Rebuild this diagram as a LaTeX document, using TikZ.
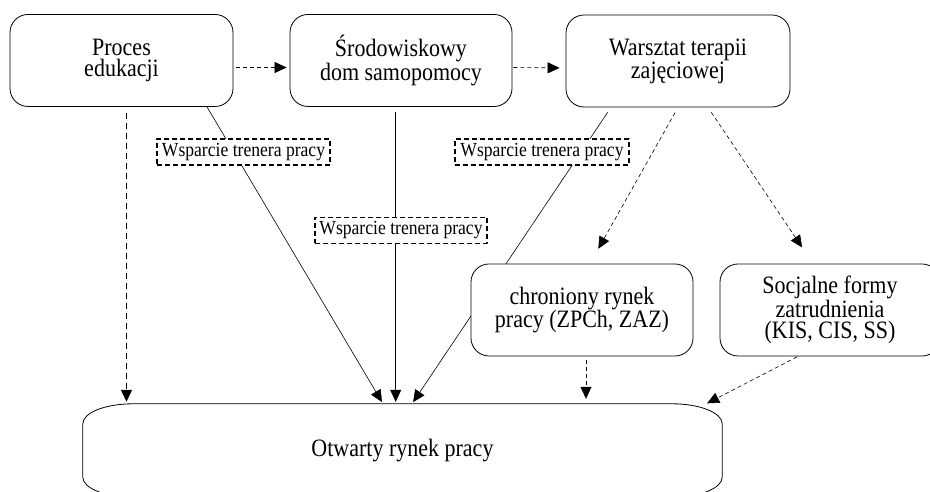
\documentclass[tikz,border=0pt]{standalone}
\usepackage{fontspec}
\setmainfont[FakeStretch=0.88]{Liberation Serif}
\usetikzlibrary{arrows.meta}
\tikzset{boxnode/.style={rectangle, rounded corners=18pt, draw=black, fill=white, line width=0.8pt, align=center, inner sep=0pt, minimum height=92pt, font=\fontsize{25}{21}\selectfont},supportnode/.style={rectangle, draw=black, fill=white, line width=1.1pt, dash pattern=on 5pt off 3pt, inner sep=0pt, minimum height=26pt, font=\fontsize{20}{20}\selectfont}}

\begin{document}
\begin{tikzpicture}[
        line join=bevel,
        >={Triangle[length=12pt, width=11pt]},
        dashedarrow/.style={->, line width=0.6pt, dash pattern=on 4pt off 3pt},
        boldarrow/.style={->, line width=1.3pt, dash pattern=on 6pt off 4pt},
        solidarrow/.style={->, line width=0.6pt}
    ]
        \useasboundingbox (0pt, 0pt) rectangle (930pt, 492pt);
        \clip (0pt, 0pt) rectangle (930pt, 492pt);
        % Top row
        \node[boxnode, minimum width=223pt] (edu) at (121.5pt, 431.5pt) {Proces\\edukacji};
        \node[boxnode, minimum width=222pt] (sds) at (401pt, 431.5pt) {Środowiskowy\\dom samopomocy};
        \node[boxnode, minimum width=224pt] (wtz) at (678pt, 431pt) {Warsztat terapii\\zajęciowej};
        % Open market
        \node[minimum width=639pt, minimum height=93pt, inner sep=0pt, font=\fontsize{25}{21}\selectfont] (otw) at (402.5pt, 41.5pt) {Otwarty rynek pracy};
        \draw[line width=0.8pt] ([xshift=50pt]otw.north west) -- ([xshift=-50pt]otw.north east)
            arc[start angle=90, end angle=0, x radius=50pt, y radius=20pt]
            -- ([yshift=20pt]otw.south east)
            arc[start angle=0, end angle=-90, x radius=50pt, y radius=20pt]
            -- ([xshift=50pt]otw.south west)
            arc[start angle=-90, end angle=-180, x radius=50pt, y radius=20pt]
            -- ([yshift=-20pt]otw.north west)
            arc[start angle=180, end angle=90, x radius=50pt, y radius=20pt] -- cycle;
        % Lines with job trainer
        \draw[solidarrow, shorten >=2pt] ([xshift=85.5pt]edu.south) -- ([xshift=-19.5pt]otw.north);
        \draw[solidarrow, shorten <=5pt, shorten >=2pt] ([xshift=-5.3pt]sds.south) -- ([xshift=-5.3pt]sds.south |- otw.north);
        \draw[solidarrow, shorten <=6pt, shorten >=2pt] ([xshift=-67pt]wtz.south) -- ([xshift=9.5pt]otw.north);
        % Labels
        \node[supportnode, minimum width=173pt] (sup1) at (243.5pt, 340pt) {Wsparcie trenera pracy};
        \node[supportnode, minimum width=172pt] (sup2) at (401pt, 261.5pt) {Wsparcie trenera pracy};
        \node[supportnode, minimum width=174pt] (sup3) at (542pt, 340pt) {Wsparcie trenera pracy};
        % Second row
        \node[boxnode, minimum width=222pt] (chr) at (582pt, 182pt) {chroniony rynek\\pracy (ZPCh, ZAZ)};
        \node[boxnode, minimum width=220pt] (soc) at (830pt, 182pt) {Socjalne formy\\zatrudnienia\\(KIS, CIS, SS)};
        % Dashed arrows
        \draw[dashedarrow, shorten <=3pt, shorten >=3pt] ([yshift=-7pt]edu.east) -- ([yshift=-7pt]sds.west);
        \draw[dashedarrow, shorten <=1pt, shorten >=6pt] ([yshift=-7pt]sds.east) -- ([yshift=-7pt]wtz.west);
        \draw[boldarrow, shorten <=6pt, shorten >=2pt] ([xshift=5pt]edu.south) -- ([xshift=5pt]edu.south |- otw.north);
        \draw[dashedarrow, shorten <=6pt, shorten >=17pt] (wtz.south) -- ([xshift=8pt]chr.north);
        \draw[dashedarrow, shorten <=6pt, shorten >=19.5pt] ([xshift=30pt]wtz.south) -- ([xshift=-17pt]soc.north);
        \draw[dashedarrow, shorten <=4pt, shorten >=5pt] ([xshift=4pt]chr.south) -- ([xshift=4pt]chr.south |- otw.north);
        \draw[dashedarrow, shorten <=1pt, shorten >=1pt] ([xshift=-32pt]soc.south) -- ([xshift=-16pt]otw.north east);
    \end{tikzpicture}
\end{document}
